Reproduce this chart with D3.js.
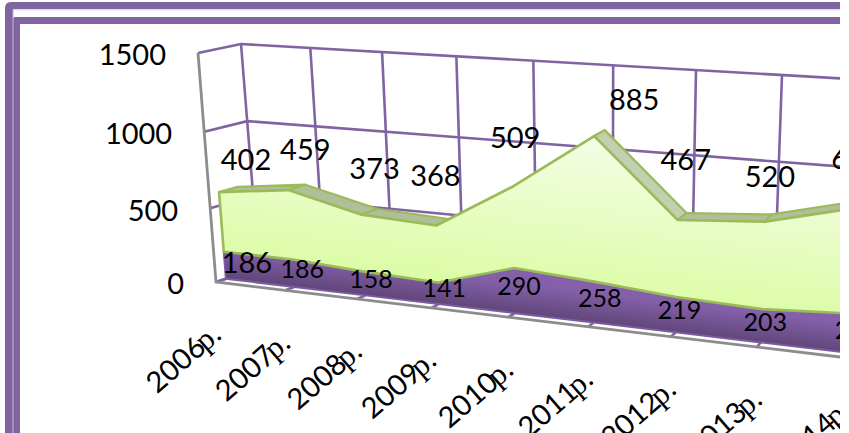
<!DOCTYPE html>
<html>
<head>
<meta charset="utf-8">
<script src="https://cdn.jsdelivr.net/npm/d3@7"></script>
<style>
html, body { margin: 0; padding: 0; background: #fff; overflow: hidden; }
text { font-family: Lato, "Open Sans", sans-serif; fill: #000; }
</style>
</head>
<body>
<div id="chart"></div>
<script>
// chart values
var years = ["2006", "2007", "2008", "2009", "2010", "2011", "2012", "2013", "2014"];
var yearSuffix = "р.";
var lower = [186, 186, 158, 141, 290, 258, 219, 203, 235];
var upper = [402, 459, 373, 368, 509, 885, 467, 520, 615];
var valueTicks = [0, 500, 1000, 1500];

// label nudges off their anchor points, in px
var upperNudge = [[27, -33], [17, -41], [13, -46], [-1, -50], [2, -49], [40, -37], [8, -61], [5, -45], [0, -49]];
var lowerNudge = [[12, -1], [-1, -2], [-3, -3], [-3, -3], [-4, -3], [-2, -2], [-4, -2], [-3, -1], [0, -1]];

var width = 849, height = 433;

var svg = d3.select("#chart").append("svg")
	.attr("width", width)
	.attr("height", height)
	.style("display", "block");

var defs = svg.append("defs");
defs.append("clipPath").attr("id", "crop")
	.append("rect").attr("x", 0).attr("y", 0).attr("width", 840).attr("height", height);

function gradient(id, x1, y1, x2, y2, c1, c2) {
	var g = defs.append("linearGradient").attr("id", id)
		.attr("gradientUnits", "userSpaceOnUse")
		.attr("x1", x1).attr("y1", y1).attr("x2", x2).attr("y2", y2);
	g.append("stop").attr("offset", 0).attr("stop-color", c1);
	g.append("stop").attr("offset", 1).attr("stop-color", c2);
}
gradient("greenFill", 500, 124, 483, 285, "#f4fde6", "#dcfca6");
gradient("purpleFill", 500, 281, 496.3, 311.6, "#8560aa", "#5f4578");

// scales: category and value run through a small perspective warp
var xScale = d3.scaleLinear().domain([0, 7]).range([0, 1]);
var yScale = d3.scaleLinear().domain([0, 1500]).range([0, 1]);

function warp(n, c) { return n / (1 + c * (1 - n)); }

// corners of the chart box on screen, [front, back]
var floorLeft = [[216, 282], [259, 268]],
	floorRight = [[757, 347], [773, 327]],
	topLeft = [[198, 53], [241, 44]],
	topRight = [[766, 89], [782, 75]];

function mix(a, b, t) { return a + (b - a) * t; }

function project(i, value, z) {
	var t = warp(xScale(i), 0.134),
		w = warp(yScale(value), 0.05);
	return [0, 1].map(function(k) {
		var c = [floorLeft, floorRight, topLeft, topRight].map(function(p) {
			return mix(p[0][k], p[1][k], z);
		});
		return mix(mix(c[0], c[1], t), mix(c[2], c[3], t), w);
	});
}

var line = d3.line();

// page frame
var purple = "#8064a2";
var frame = svg.append("g");
frame.append("path")
	.attr("d", "M5,433V8Q5,2 11,2H840V9H13V433Z")
	.attr("fill", purple);
frame.append("path")
	.attr("d", "M13,433V19Q13,17 15,17H840V24H20V433Z")
	.attr("fill", purple);
frame.append("path")
	.attr("d", "M13,433V10H840")
	.attr("fill", "none")
	.attr("stroke", "#c3b6d4")
	.attr("stroke-width", 1);
frame.append("rect")
	.attr("x", 14).attr("y", 10.5).attr("width", 826).attr("height", 6.5)
	.attr("fill", "#fff");

var plot = svg.append("g").attr("clip-path", "url(#crop)");
var cats = d3.range(years.length);
var frontZ = 0.23, backZ = 0.66;

// back and side wall grid
var grid = plot.append("g").attr("fill", "none").attr("stroke", purple).attr("stroke-width", 2.6);
valueTicks.forEach(function(v) {
	if (v > 0) {
		grid.append("path").attr("d", line([project(0, v, 0), project(0, v, 1), project(8.2, v, 1)]));
	}
});
cats.forEach(function(i) {
	grid.append("path").attr("d", line([project(i, 0, 1), project(i, 1500, 1)]));
	grid.append("path").attr("d", line([project(i, 0, 0), project(i, 0, frontZ)]));
});
grid.append("path").attr("d", line([project(0, 0, 0), project(0, 0, 1)]));

// grey axis edges
plot.append("path")
	.attr("d", line([project(0, 1500, 0), project(0, 0, 0), project(8.2, 0, 0)]))
	.attr("fill", "none")
	.attr("stroke", "#8c8c8c")
	.attr("stroke-width", 2.8);

// running top of the stack
var total = upper.map(function(d, i) { return d + lower[i]; });

// top faces of the upper band
var faces = plot.append("g");
d3.pairs(cats).forEach(function(p) {
	var a = p[0], b = p[1];
	faces.append("path")
		.attr("d", line([
			project(a, total[a], frontZ), project(b, total[b], frontZ),
			project(b, total[b], backZ), project(a, total[a], backZ)
		]) + "Z")
		.attr("fill", b === 5 || a === 5 ? "#c2d0b0" : "#b0bf9a")
		.attr("stroke", "#9bbb59")
		.attr("stroke-width", 2.2)
		.attr("stroke-linejoin", "round");
});

// lower band
var lowerArea = d3.area()
	.x0(function(i) { return project(i, 0, frontZ)[0]; })
	.y0(function(i) { return project(i, 0, frontZ)[1]; })
	.x1(function(i) { return project(i, lower[i], frontZ)[0]; })
	.y1(function(i) { return project(i, lower[i], frontZ)[1]; });
plot.append("path")
	.attr("d", lowerArea(cats))
	.attr("fill", "url(#purpleFill)")
	.attr("stroke", "#7a5c9e")
	.attr("stroke-width", 2);

// upper band
var upperArea = d3.area()
	.x0(function(i) { return project(i, lower[i], frontZ)[0]; })
	.y0(function(i) { return project(i, lower[i], frontZ)[1]; })
	.x1(function(i) { return project(i, total[i], frontZ)[0]; })
	.y1(function(i) { return project(i, total[i], frontZ)[1]; });
plot.append("path")
	.attr("d", upperArea(cats))
	.attr("fill", "url(#greenFill)")
	.attr("stroke", "#9bbb59")
	.attr("stroke-width", 2.6)
	.attr("stroke-linejoin", "round");

// value axis labels
plot.selectAll(".vtick")
	.data(valueTicks)
	.enter()
	.append("text")
	.attr("class", "vtick")
	.attr("x", function(d) { return project(0, d, 0)[0] - 32; })
	.attr("y", function(d) { return project(0, d, 0)[1] + 2; })
	.attr("dy", "0.36em")
	.attr("text-anchor", "end")
	.attr("font-size", 29)
	.text(function(d) { return d; });

// category labels, the suffix falls back to a serif face in the original
var catLabels = plot.selectAll(".cat")
	.data(cats)
	.enter()
	.append("text")
	.attr("class", "cat")
	.attr("text-anchor", "end")
	.attr("font-size", 29)
	.attr("transform", function(i) {
		var p = project(i, 0, 0);
		return "translate(" + (p[0] + 7) + "," + (p[1] + 55) + ")rotate(-41)";
	});
catLabels.append("tspan").text(function(i) { return years[i]; });
catLabels.append("tspan")
	.style("font-family", "'Liberation Serif', serif")
	.attr("font-size", 31)
	.attr("dx", -3)
	.text(yearSuffix);

// data labels
plot.selectAll(".upper")
	.data(cats)
	.enter()
	.append("text")
	.attr("class", "upper")
	.attr("text-anchor", "middle")
	.attr("dy", "0.36em")
	.attr("font-size", 29)
	.attr("x", function(i) { return project(i, total[i], frontZ)[0] + upperNudge[i][0]; })
	.attr("y", function(i) { return project(i, total[i], frontZ)[1] + upperNudge[i][1]; })
	.text(function(i) { return upper[i]; });

plot.selectAll(".lower")
	.data(cats)
	.enter()
	.append("text")
	.attr("class", "lower")
	.attr("text-anchor", "middle")
	.attr("dy", "0.36em")
	.attr("font-size", function(i) { return i === 0 ? 29 : 25; })
	.attr("x", function(i) { return project(i, lower[i] / 2, 0.35)[0] + 5 + lowerNudge[i][0]; })
	.attr("y", function(i) { return project(i, lower[i] / 2, 0.35)[1] + lowerNudge[i][1]; })
	.text(function(i) { return lower[i]; });
</script>
</body>
</html>
